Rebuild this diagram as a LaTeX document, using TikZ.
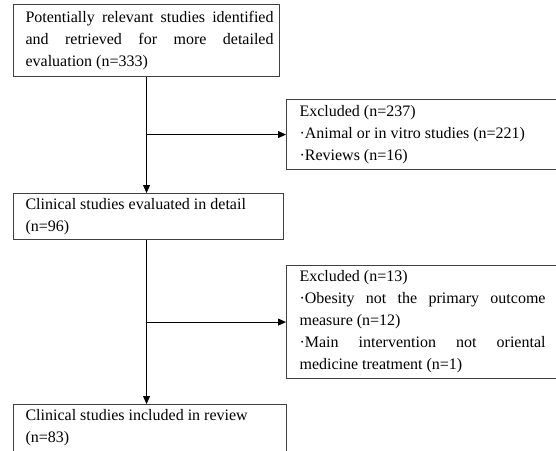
\documentclass[tikz,border=0pt]{standalone}
\usepackage{fontspec}
\setmainfont{Liberation Serif}
\usetikzlibrary{arrows.meta,positioning}

\begin{document}
\begin{tikzpicture}[
    x = 1pt, y = -1pt, % one unit per pixel, y going down
    > = {Triangle[length=8pt,width=7pt]}, % arrow head style
    line width = 0.8pt % line style
    ]

    \tikzset{stagebox/.style={
    draw = black!75,
    line width = 1.1pt,
    anchor = north west,
    text width = 254pt,
    inner xsep = 6pt,
    inner ysep = 0pt,
    align = justify,
    execute at begin node = {\leftskip=6pt},
    font = \fontsize{16}{22}\selectfont
    }}
    \tikzset{exbox/.style={
    stagebox,
    text width = 246pt,
    inner xsep = 13pt,
    execute at begin node = {\leftskip=0pt}
    }}

    \useasboundingbox (0,0) rectangle (556,450);
    \clip (0,0) rectangle (556,450);

    \node[stagebox,minimum height=72pt] (found) at (13,4)
        {Potentially relevant studies identified\linebreak and retrieved for more detailed\linebreak evaluation (n=333)};
    \node[stagebox,minimum height=46pt,text width=258pt] (detail) at (13,193)
        {Clinical studies evaluated in detail\\(n=96)};
    \node[stagebox,text width=261pt,inner ysep=5pt,text depth=45pt] (incl) at (13,404)
        {Clinical studies included in review\\(n=83)};
    \node[exbox,minimum height=70pt] (ex1) at (286,99)
        {Excluded (n=237)\\·Animal or in vitro studies (n=221)\\·Reviews (n=16)};
    \node[exbox,minimum height=113pt] (ex2) at (286,265)
        {Excluded (n=13)\\·Obesity not the primary outcome\linebreak measure (n=12)\\·Main intervention not oriental\linebreak medicine treatment (n=1)};

    \draw[->] (found.south) -- (found.south |- detail.north);
    \draw[->] (found.south |- ex1.west) -- (ex1.west);
    \draw[->] (found.south |- detail.south) -- (found.south |- incl.north);
    \draw[->] (found.south |- ex2.west) -- (ex2.west);
\end{tikzpicture}
\end{document}
